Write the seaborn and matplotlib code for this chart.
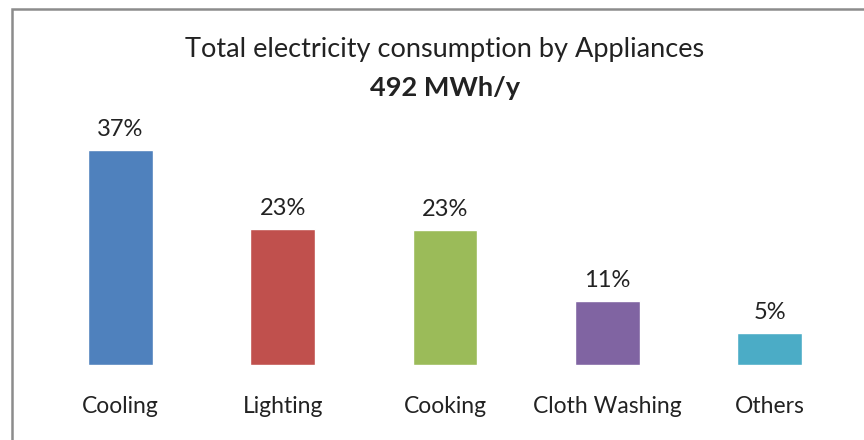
import matplotlib
matplotlib.use("Agg")
import matplotlib.pyplot as plt
import seaborn as sns
import pandas as pd
from matplotlib.patches import Rectangle

# chart data
categories = ["Cooling", "Lighting", "Cooking", "Cloth Washing", "Others"]
shares = [37.0, 23.4, 23.2, 11.0, 5.5]
share_labels = ["37%", "23%", "23%", "11%", "5%"]
colors = ["#4F81BD", "#C0504D", "#9BBB59", "#8064A2", "#4BACC6"]
title_line1 = "Total electricity consumption by Appliances"
title_line2 = "492 MWh/y"

df = pd.DataFrame({"category": categories, "share": shares})

sns.set_theme(style="white")
plt.rcParams["font.family"] = ["Lato", "DejaVu Sans"]

fig = plt.figure(figsize=(8.64, 4.4), dpi=100)
ax = fig.add_axes([39.3 / 864, 1 - 365 / 440, (850.7 - 39.3) / 864, 232.4 / 440])

sns.barplot(data=df, x="category", y="share", hue="category", palette=colors,
            width=0.4, legend=False, ax=ax, saturation=1)
ax.set_ylim(0, 40)
ax.set_xlim(-0.5, len(categories) - 0.5)

for i, (v, lab) in enumerate(zip(shares, share_labels)):
    ax.annotate(lab, (i, v), xytext=(0, 15), textcoords="offset points",
                ha="center", va="center", fontsize=17, color="#222222")

ax.set_xlabel("")
ax.set_ylabel("")
ax.set_yticks([])
ax.tick_params(axis="x", length=0, pad=22, labelsize=16.5, colors="#222222")
sns.despine(ax=ax, left=True, bottom=True)

fig.text(445 / 864, 1 - 50 / 440, title_line1, ha="center", va="center",
         fontsize=19.5, color="#222222")
fig.text(445 / 864, 1 - 88 / 440, title_line2, ha="center", va="center",
         fontsize=19.5, fontweight="bold", color="#222222")

# gray frame around the chart area (right/bottom edges fall outside the image)
fig.patches.append(Rectangle((12 / 864, -0.1), 1.2, 1 - 9 / 440 + 0.1,
                             transform=fig.transFigure, fill=False,
                             edgecolor="#8c8c8c", linewidth=1.8))

fig.savefig("out.png", dpi=100)
